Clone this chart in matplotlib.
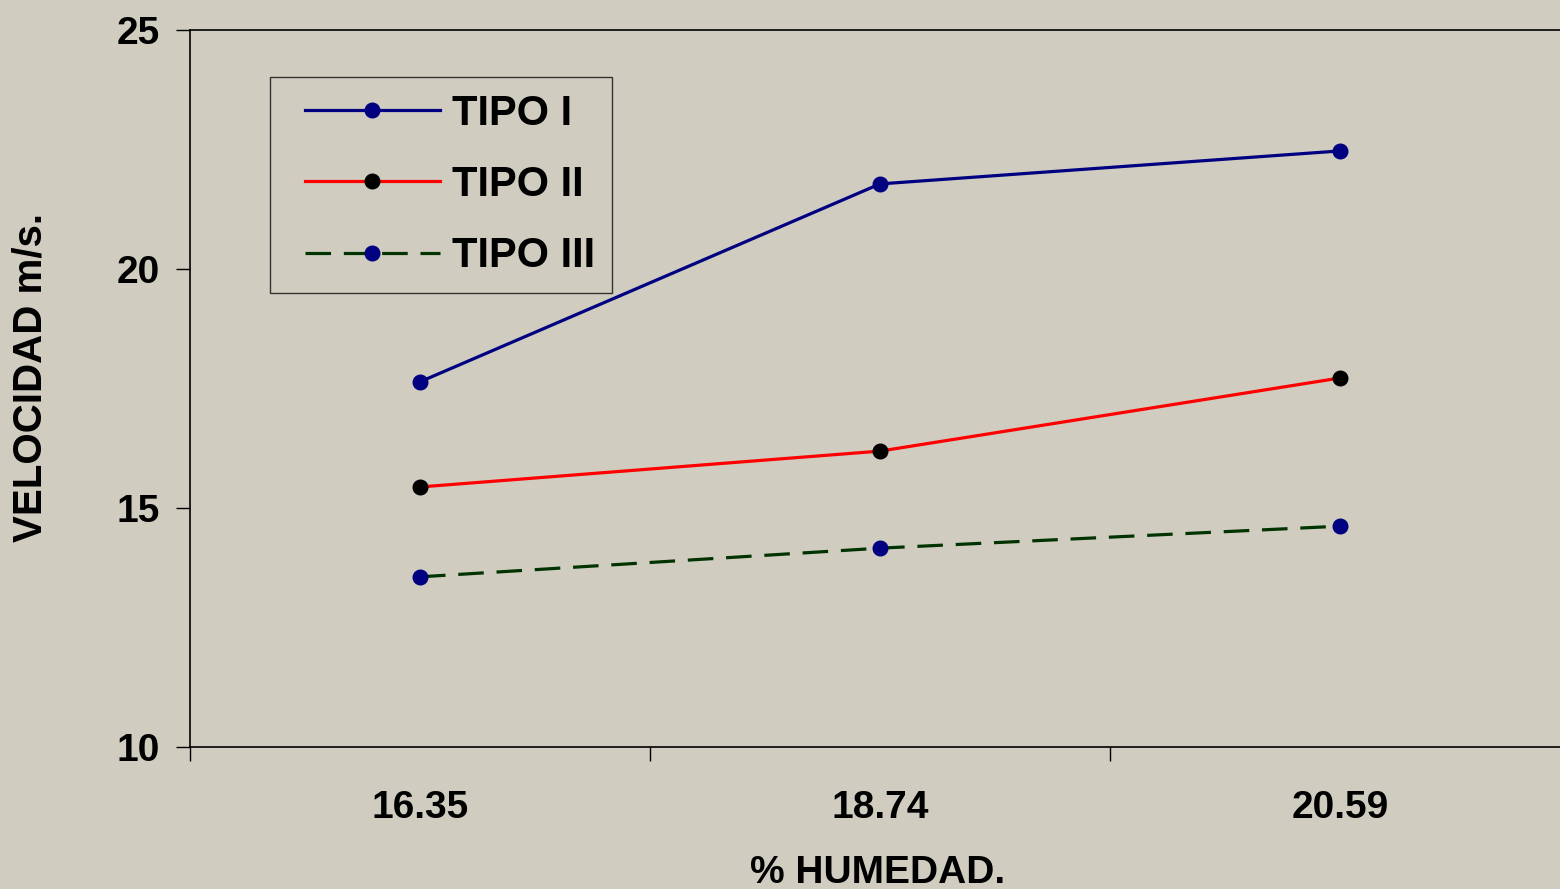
import matplotlib
matplotlib.use("Agg")
import matplotlib.pyplot as plt
from matplotlib.ticker import FixedLocator, NullFormatter
from matplotlib.legend_handler import HandlerLine2D

plt.rcParams['font.family'] = ['Liberation Sans', 'DejaVu Sans']
plt.rcParams['font.weight'] = 'bold'

categories = ["16.35", "18.74", "20.59"]
tipo1 = [17.64, 21.78, 22.47]
tipo2 = [15.44, 16.19, 17.72]
tipo3 = [13.56, 14.16, 14.62]
series_names = ["TIPO I", "TIPO II", "TIPO III"]
y_ticks = [10, 15, 20, 25]

bg = '#D0CCC0'
W, H = 1560, 889
fig = plt.figure(figsize=(W/100, H/100), dpi=100, facecolor=bg)
ax = fig.add_axes([190/W, 1-747/H, 1380/W, 717/H], facecolor=bg)

x = [i + 0.5 for i in range(len(categories))]
l1, = ax.plot(x, tipo1, color='#000080', lw=2.3, marker='o', ms=10.5,
              mfc='#000080', mec='#000080', label=series_names[0])
l2, = ax.plot(x, tipo2, color='#FF0000', lw=2.3, marker='o', ms=10.5,
              mfc='black', mec='black', label=series_names[1])
l3, = ax.plot(x, tipo3, color='#003300', lw=2.3, dashes=(8, 4), marker='o', ms=10.5,
              mfc='#000080', mec='#000080', label=series_names[2])

ax.set_xlim(0, len(categories))
ax.set_ylim(10, 25)
ax.set_yticks(y_ticks)
ax.tick_params(axis='y', length=10, width=1, pad=12, labelsize=28, direction='out')
ax.set_xticks(x)
ax.set_xticklabels(categories)
ax.xaxis.set_minor_locator(FixedLocator(range(len(categories) + 1)))
ax.xaxis.set_minor_formatter(NullFormatter())
ax.tick_params(axis='x', which='major', length=0, pad=31, labelsize=28)
ax.tick_params(axis='x', which='minor', length=10, width=1, direction='out')
for lab in ax.get_xticklabels() + ax.get_yticklabels():
    lab.set_fontweight('bold')
for s in ax.spines.values():
    s.set_linewidth(1.2)
    s.set_color('black')

hm = {h: HandlerLine2D(xpad=0.43) for h in (l1, l2, l3)}
leg = ax.legend(handler_map=hm, loc='upper left',
                bbox_to_anchor=((270-190)/1380, (747-77)/717),
                fontsize=30, frameon=True, fancybox=False, edgecolor='#333333',
                facecolor=bg, framealpha=1, handlelength=3.67, handletextpad=0.3,
                labelspacing=0.75, borderpad=0.4, borderaxespad=0)
leg.get_frame().set_linewidth(1)
for t in leg.get_texts():
    t.set_fontweight('bold')

fig.text(31/W, 1-377/H, "VELOCIDAD m/s.", rotation=90, ha='center', va='center',
         fontsize=29, fontweight='bold')
fig.text(878/W, 1-855/H, "% HUMEDAD.", ha='center', va='top',
         fontsize=28, fontweight='bold')

fig.savefig('out.png', dpi=100, facecolor=bg)
